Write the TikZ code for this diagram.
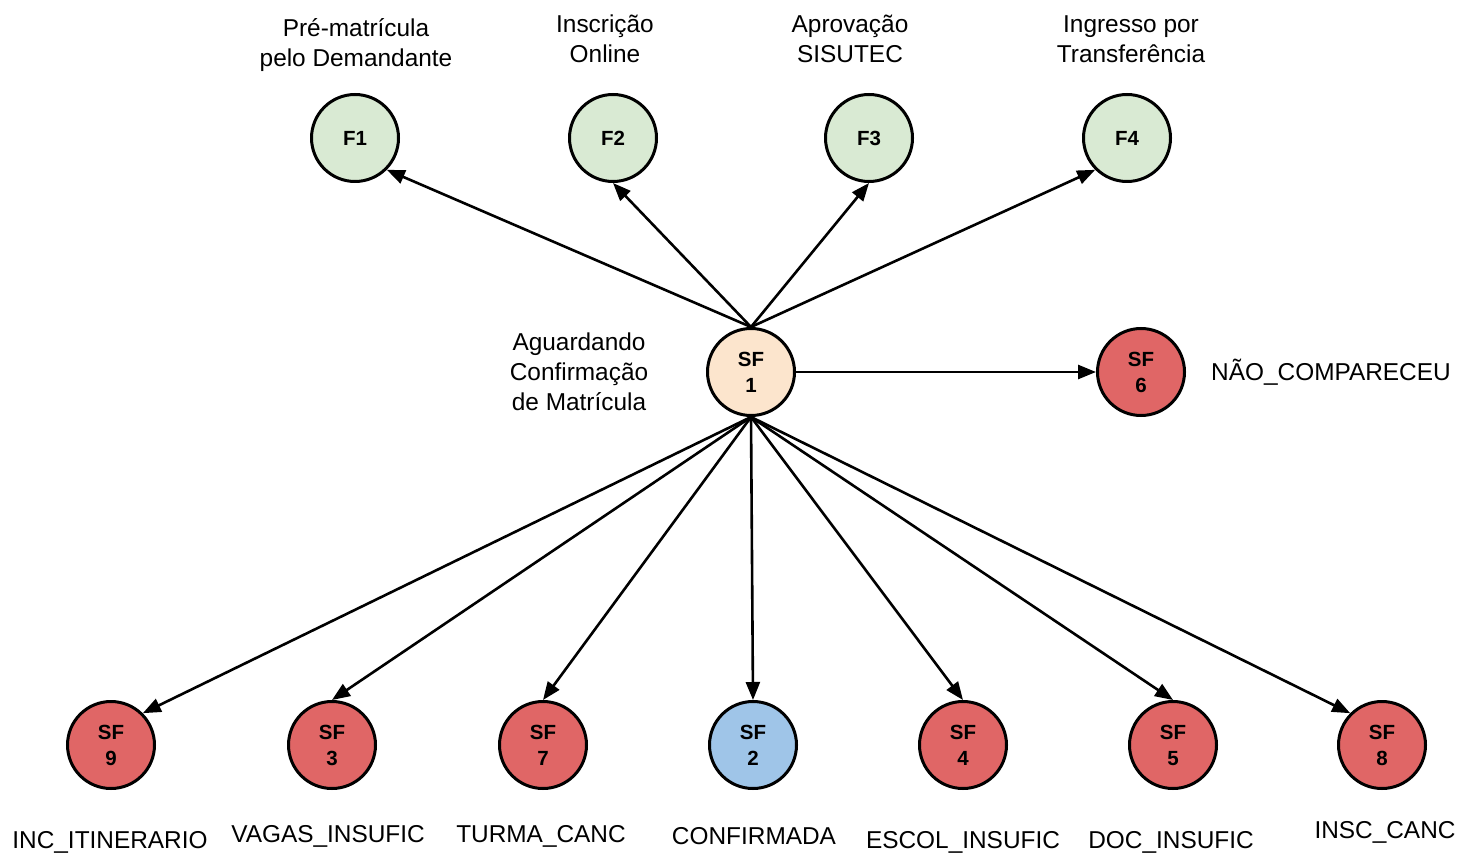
\documentclass[tikz,border=0pt]{standalone}
\usepackage{fontspec}
\setmainfont{Liberation Sans}
\usetikzlibrary{arrows.meta}
\definecolor{fgreen}{HTML}{D9EAD3}
\definecolor{fpeach}{HTML}{FCE5CD}
\definecolor{fred}{HTML}{E06666}
\definecolor{fblue}{HTML}{9FC5E8}
\tikzset{
  state/.style={circle,draw=black,line width=3pt,minimum size=87pt,inner sep=0pt,align=center,
    font=\fontsize{20.5}{26}\selectfont\bfseries},
  lbl/.style={align=center,inner sep=0pt,font=\fontsize{24.4}{30}\selectfont},
  conn/.style={line width=2.6pt,-{Triangle[length=18pt,width=14pt]}}
}
\begin{document}
\begin{tikzpicture}[x=1pt,y=-1pt]
\useasboundingbox[fill=white] (0,0) rectangle (1461,858);
% nodes
\node[state,fill=fgreen] (F1) at (355,138) {F1};
\node[state,fill=fgreen] (F2) at (613,138) {F2};
\node[state,fill=fgreen] (F3) at (869,138) {F3};
\node[state,fill=fgreen] (F4) at (1127,138) {F4};
\node[state,fill=fpeach] (SF1) at (751,372) {SF\\1};
\node[state,fill=fred] (SF6) at (1141,372) {SF\\6};
\node[state,fill=fred] (SF9) at (111,745) {SF\\9};
\node[state,fill=fred] (SF3) at (332,745) {SF\\3};
\node[state,fill=fred] (SF7) at (543,745) {SF\\7};
\node[state,fill=fblue] (SF2) at (753,745) {SF\\2};
\node[state,fill=fred] (SF4) at (963,745) {SF\\4};
\node[state,fill=fred] (SF5) at (1173,745) {SF\\5};
\node[state,fill=fred] (SF8) at (1382,745) {SF\\8};
% labels
\node[lbl] (L1) at (356,45) {Pré-matrícula\\pelo Demandante};
\node[lbl] (L2) at (605,39) {Inscrição\\Online};
\node[lbl] (L3) at (850,39) {Aprovação\\SISUTEC};
\node[lbl] (L4) at (1131,39) {Ingresso por\\Transferência};
\node[lbl] (L5) at (579,372) {Aguardando\\Confirmação\\de Matrícula};
\node[lbl,anchor=west] (L6) at (1211,372) {NÃO\_COMPARECEU};
\node[lbl] (L9) at (110,842) {INC\_ITINERARIO};
\node[lbl] (L3b) at (328,836) {VAGAS\_INSUFIC};
\node[lbl] (L7) at (541,836) {TURMA\_CANC};
\node[lbl] (L2b) at (754,836) {CONFIRMADA};
\node[lbl] (L4b) at (963,842) {ESCOL\_INSUFIC};
\node[lbl] (L5b) at (1171,842) {DOC\_INSUFIC};
\node[lbl] (L8) at (1385,832) {INSC\_CANC};
% connectors
\draw[conn] (SF1.north) -- (F1.south east);
\draw[conn] (SF1.north) -- (F2.south);
\draw[conn] (SF1.north) -- (F3.south);
\draw[conn] (SF1.north) -- (F4.south west);
\draw[conn] (SF1.east) -- (SF6.west);
\draw[conn] (SF1.south) -- (SF9.north east);
\draw[conn] (SF1.south) -- (SF3.north);
\draw[conn] (SF1.south) -- (SF7.north);
\draw[conn] (SF1.south) -- (SF2.north);
\draw[conn] (SF1.south) -- (SF4.north);
\draw[conn] (SF1.south) -- (SF5.north);
\draw[conn] (SF1.south) -- (SF8.north west);
\end{tikzpicture}
\end{document}
